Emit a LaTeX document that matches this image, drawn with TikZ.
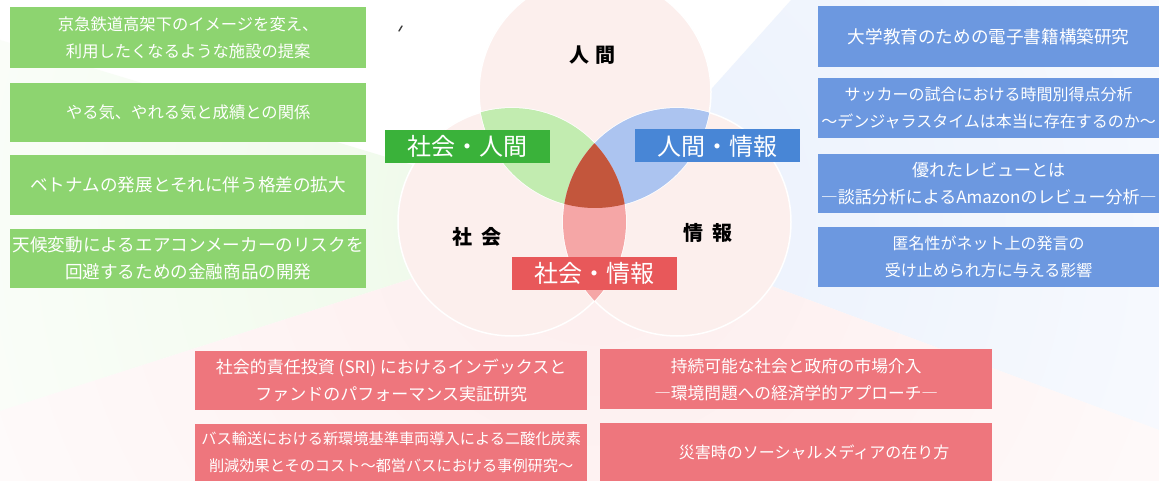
\documentclass[tikz,border=0pt]{standalone}
\usepackage{fontspec}
\setmainfont{Noto Sans CJK JP}
\definecolor{boxgreen}{RGB}{141,212,112}
\definecolor{boxblue}{RGB}{108,152,224}
\definecolor{boxpink}{RGB}{238,118,125}
\definecolor{labgreen}{RGB}{58,178,58}
\definecolor{labblue}{RGB}{72,134,214}
\definecolor{labred}{RGB}{232,88,90}
\definecolor{circfill}{RGB}{252,239,237}
\definecolor{lensgreen}{RGB}{194,236,176}
\definecolor{lensblue}{RGB}{172,196,240}
\definecolor{lensred}{RGB}{245,166,166}
\definecolor{lensdark}{RGB}{195,86,60}
\definecolor{washgreen}{RGB}{236,249,230}
\definecolor{washblue}{RGB}{233,240,252}
\definecolor{washpink}{RGB}{253,237,237}
\tikzset{
  resbox/.style={anchor=north west, inner sep=0pt, align=center, text=white,
    font=\fontsize{17}{27}\selectfont},
  gbox/.style={resbox, fill=boxgreen, minimum width=356pt},
  bbox/.style={resbox, fill=boxblue, minimum width=341pt},
  pbox/.style={resbox, fill=boxpink, minimum width=392pt},
  labbox/.style={inner sep=0pt, text=white, minimum width=165pt, minimum height=33pt,
    font=\fontsize{24}{24}\selectfont},
  catlabel/.style={inner sep=0pt, text=black, font=\fontsize{20}{20}\selectfont\bfseries},
  venn/.style={fill=circfill},
  vennline/.style={draw=white, line width=1.5pt}
}
\begin{document}
\begin{tikzpicture}[x=1pt,y=-1pt]
\useasboundingbox (0,0) rectangle (1159,481);
\fill[white] (0,0) rectangle (1159,481);
\coordinate (O) at (594,220);
\coordinate (T) at (595,92);
\coordinate (L) at (512,222);
\coordinate (R) at (677,222);
% background washes
\begin{scope}
  \clip (O) -- (0,40) -- (0,411) -- cycle;
  \shade[inner color=washgreen, outer color=white] (O) circle (850pt);
\end{scope}
\begin{scope}
  \clip (O) -- (800,-10) -- (1159,-10) -- (1159,430) -- cycle;
  \shade[inner color=washblue, outer color=white] (O) circle (950pt);
\end{scope}
\begin{scope}
  \clip (O) -- (0,411) -- (0,481) -- (1159,481) -- (1159,430) -- cycle;
  \shade[inner color=washpink, outer color=white] (O) circle (900pt);
\end{scope}
% circles
\fill[venn] (T) circle (116pt);
\fill[venn] (L) circle (114pt);
\fill[venn] (R) circle (114pt);
\draw[vennline] (T) circle (116pt);
\draw[vennline] (L) circle (114pt);
\draw[vennline] (R) circle (114pt);
% lenses
\begin{scope}\clip (T) circle (116pt); \fill[lensgreen] (L) circle (114pt);\end{scope}
\begin{scope}\clip (T) circle (116pt); \fill[lensblue] (R) circle (114pt);\end{scope}
\begin{scope}\clip (L) circle (114pt); \fill[lensred] (R) circle (114pt);\end{scope}
\begin{scope}\clip (T) circle (116pt); \clip (L) circle (114pt); \fill[lensdark] (R) circle (114pt);\end{scope}
% small pencil mark
\draw[black!75, line width=1.4pt, line cap=round] (399,31) -- (402,26);
% category labels
\node[catlabel] (hum) at (592,55) {人\hspace{6pt}間};
\node[catlabel] (soc) at (477,237) {社\hspace{9pt}会};
\node[catlabel] (inf) at (708,233) {情\hspace{9pt}報};
% overlap labels
\node[labbox, fill=labgreen] (sh) at (467.5,146.5) {社会・人間};
\node[labbox, fill=labblue] (hi) at (717.5,146) {人間・情報};
\node[labbox, fill=labred] (si) at (594,273) {社会・情報};
% green boxes
\node[gbox, minimum height=61pt, font=\fontsize{16.3}{27}\selectfont] (g1) at (10,7)
  {京急鉄道高架下のイメージを変え、\\利用したくなるような施設の提案};
\node[gbox, minimum height=59pt, font=\fontsize{16.3}{27}\selectfont] (g2) at (10,83)
  {やる気、やれる気と成績との関係};
\node[gbox, minimum height=60pt, font=\fontsize{17.6}{27}\selectfont] (g3) at (10,155)
  {ベトナムの発展とそれに伴う格差の拡大};
\node[gbox, minimum height=59pt, font=\fontsize{17.6}{27}\selectfont] (g4) at (10,229)
  {天候変動によるエアコンメーカーのリスクを\\回避するための金融商品の開発};
% blue boxes
\node[bbox, minimum height=61pt, font=\fontsize{17.6}{27}\selectfont] (b1) at (818,6)
  {大学教育のための電子書籍構築研究};
\node[bbox, minimum height=60pt, font=\fontsize{16}{27}\selectfont] (b2) at (818,78)
  {サッカーの試合における時間別得点分析\\～デンジャラスタイムは本当に存在するのか～};
\node[bbox, minimum height=59pt, font=\fontsize{17}{27}\selectfont] (b3) at (818,154)
  {優れたレビューとは\\―談話分析によるAmazonのレビュー分析―};
\node[bbox, minimum height=60pt, font=\fontsize{16}{27}\selectfont] (b4) at (818,227)
  {匿名性がネット上の発言の\\受け止められ方に与える影響};
% pink boxes
\node[pbox, minimum height=59pt, font=\fontsize{17}{27}\selectfont] (p1) at (195,351)
  {社会的責任投資 (SRI) におけるインデックスと\\ファンドのパフォーマンス実証研究};
\node[pbox, minimum height=57pt, font=\fontsize{15.2}{27}\selectfont] (p2) at (195,424)
  {バス輸送における新環境基準車両導入による二酸化炭素\\削減効果とそのコスト～都営バスにおける事例研究～};
\node[pbox, minimum height=60pt, font=\fontsize{16.7}{27}\selectfont] (p3) at (600,349)
  {持続可能な社会と政府の市場介入\\―環境問題への経済学的アプローチ―};
\node[pbox, minimum height=58pt, font=\fontsize{16}{27}\selectfont] (p4) at (600,423)
  {\hspace*{36pt}災害時のソーシャルメディアの在り方};
\end{tikzpicture}
\end{document}
